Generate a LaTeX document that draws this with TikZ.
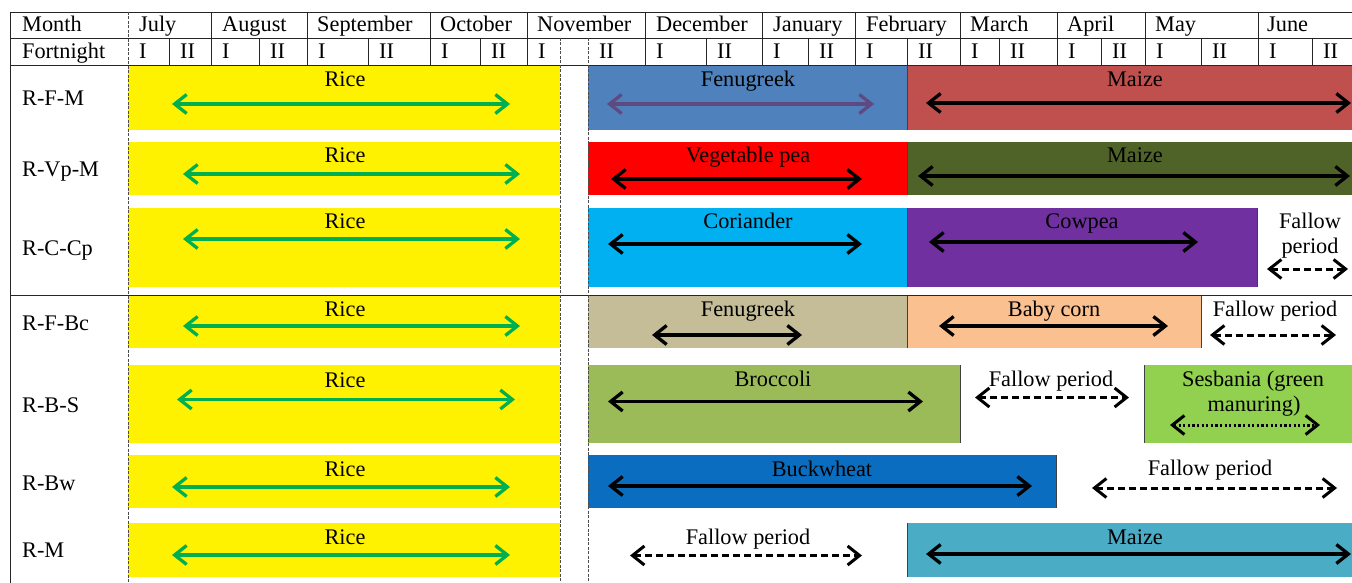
\documentclass[tikz,border=0pt]{standalone}
\usepackage{fontspec}
\setmainfont{Liberation Serif}
\usetikzlibrary{arrows.meta}
\definecolor{riceyellow}{HTML}{FFF200}
\definecolor{ricegreen}{HTML}{00B050}
\definecolor{fenblue}{HTML}{4F81BD}
\definecolor{maizered}{HTML}{C0504D}
\definecolor{fenarrow}{HTML}{5E4A80}
\definecolor{vpred}{HTML}{FF0000}
\definecolor{maizeolive}{HTML}{4F6228}
\definecolor{corcyan}{HTML}{00B0F0}
\definecolor{cowpurple}{HTML}{7030A0}
\definecolor{fentan}{HTML}{C4BD97}
\definecolor{babypeach}{HTML}{FAC090}
\definecolor{broccoligreen}{HTML}{9BBB59}
\definecolor{sesbgreen}{HTML}{92D050}
\definecolor{buckblue}{HTML}{0A6DBF}
\definecolor{maizeteal}{HTML}{4BACC6}
\newcommand\spanarr[5][]{%
  \coordinate (#2-l) at (#3,#5);
  \coordinate (#2-r) at (#4,#5);
  \draw[#1] (#2-l) -- (#2-r);}
\begin{document}
\begin{tikzpicture}[x=1pt,y=-1pt,
  txt/.style={font=\rmfamily\fontsize{22.3}{25}\selectfont, inner sep=0pt, anchor=base},
  lbl/.style={txt, anchor=base west},
  grid/.style={draw=black!85, line width=0.9pt},
  dgrid/.style={draw=black!70, line width=0.7pt, dash pattern=on 3pt off 1.5pt},
  edge/.style={draw=black!75, line width=0.9pt},
  dbl/.style={line width=3.3pt,
    {Straight Barb[length=12pt,width=19pt]}-{Straight Barb[length=12pt,width=19pt]}},
  ricearr/.style={dbl, draw=ricegreen},
  blkarr/.style={dbl, draw=black},
  fenarr/.style={dbl, draw=fenarrow},
  fallowarr/.style={dbl, draw=black, line width=3pt, dash pattern=on 7pt off 4pt},
  dotarr/.style={dbl, draw=black, line width=3pt, dash pattern=on 2.2pt off 2.4pt}]
\useasboundingbox (0,0) rectangle (1352,583);
\fill[white] (0,0) rectangle (1352,583);

% ---- rice bands
\foreach \ya/\yb in {66/130,142/195,208/287,296/348,365/443,455/508,523/577}
  \fill[riceyellow] (128,\ya) rectangle (560,\yb);
% ---- other crops
\fill[fenblue] (588,66) rectangle (907,130);
\fill[maizered] (907,66) rectangle (1352,130);
\fill[vpred] (588,142) rectangle (907,195);
\fill[maizeolive] (907,142) rectangle (1352,195);
\fill[corcyan] (588,208) rectangle (907,287);
\fill[cowpurple] (907,208) rectangle (1257,287);
\fill[fentan] (588,296) rectangle (907,348);
\fill[babypeach] (907,296) rectangle (1201,348);
\fill[broccoligreen] (588,365) rectangle (960,443);
\fill[sesbgreen] (1144,365) rectangle (1352,443);
\fill[buckblue] (588,455) rectangle (1056,508);
\fill[maizeteal] (907,523) rectangle (1352,577);
% block edges
\draw[edge] (907,66) -- (907,130);
\draw[edge] (907,142) -- (907,195);
\draw[edge] (907,208) -- (907,287);
\draw[edge] (1257,208) -- (1257,287);
\draw[edge] (907,296) -- (907,348);
\draw[edge] (1201,296) -- (1201,348);
\draw[edge] (960,365) -- (960,443);
\draw[edge] (1144,365) -- (1144,443);
\draw[edge] (1056,455) -- (1056,508);
\draw[edge] (907,523) -- (907,577);

% ---- grid
\draw[grid] (10,12) -- (1352,12);
\draw[grid] (10,38) -- (1352,38);
\draw[grid] (10,65) -- (1352,65);
\draw[grid] (10,295) -- (1352,295);
\draw[grid] (10,12) -- (10,583);
\foreach \x in {211,307,430,527,645,762,855,960,1057,1145,1258}
  \draw[grid] (\x,12) -- (\x,38);
\foreach \x in {169,211,259,307,368,430,480,527,645,706,762,808,855,907,960,999,1057,1101,1145,1201,1258,1312}
  \draw[grid] (\x,38) -- (\x,65);
\draw[dgrid] (128,12) -- (128,583);
\draw[dgrid] (560,38) -- (560,583);
\draw[dgrid] (588,38) -- (588,583);

% ---- header text
\node[lbl] (hmonth) at (22,32) {Month};
\node[lbl] (hfort) at (22,59) {Fortnight};
\foreach \x/\m [count=\i] in {139/July,222/August,317/September,440/October,537/November,656/December,773/January,866/February,970/March,1067/April,1155/May,1267/June}
  \node[lbl] (mon\i) at (\x,32) {\m};
\foreach \x/\f [count=\i] in {128/I,169/II,211/I,259/II,307/I,368/II,430/I,480/II,527/I,588/II,645/I,706/II,762/I,808/II,855/I,907/II,960/I,999/II,1057/I,1101/II,1145/I,1201/II,1258/I,1312/II}
  \node[lbl] (fn\i) at (\x+11,59) {\f};

% ---- row labels
\node[lbl] (rfm) at (22,106) {R-F-M};
\node[lbl] (rvpm) at (22,176) {R-Vp-M};
\node[lbl] (rccp) at (22,255) {R-C-Cp};
\node[lbl] (rfbc) at (22,330) {R-F-Bc};
\node[lbl] (rbs) at (22,412) {R-B-S};
\node[lbl] (rbw) at (22,490) {R-Bw};
\node[lbl] (rm) at (22,557) {R-M};

% ---- crop labels
\foreach \y [count=\i] in {87,163,228,316,387,476,544}
  \node[txt] (rice\i) at (345,\y) {Rice};
\node[txt] (fen1) at (748,87) {Fenugreek};
\node[txt] (maize1) at (1135,87) {Maize};
\node[txt] (vp) at (748,163) {Vegetable pea};
\node[txt] (maize2) at (1135,163) {Maize};
\node[txt] (cor) at (748,228) {Coriander};
\node[txt] (cow) at (1082,228) {Cowpea};
\node[txt] (fal3a) at (1310,228) {Fallow};
\node[txt] (fal3b) at (1310,253) {period};
\node[txt] (fen2) at (748,316) {Fenugreek};
\node[txt] (baby) at (1054,316) {Baby corn};
\node[txt] (fal4) at (1275,316) {Fallow period};
\node[txt] (broc) at (773,386) {Broccoli};
\node[txt] (fal5) at (1051,386) {Fallow period};
\node[txt] (sesa) at (1253,386) {Sesbania (green};
\node[txt] (sesb) at (1254,411) {manuring)};
\node[txt] (buck) at (822,476) {Buckwheat};
\node[txt] (fal6) at (1210,475) {Fallow period};
\node[txt] (fal7) at (748,544) {Fallow period};
\node[txt] (maize3) at (1135,544) {Maize};

% ---- arrows
\spanarr[ricearr]{ra1}{172}{510}{104}
\spanarr[ricearr]{ra2}{183}{520}{174}
\spanarr[ricearr]{ra3}{183}{520}{239}
\spanarr[ricearr]{ra4}{183}{520}{326}
\spanarr[ricearr]{ra5}{177}{515}{399.5}
\spanarr[ricearr]{ra6}{172}{510}{487}
\spanarr[ricearr]{ra7}{172}{510}{555}
\spanarr[fenarr]{fa1}{607}{874}{104}
\spanarr[blkarr]{ma1}{926}{1351}{103}
\spanarr[blkarr]{va}{611}{862}{179}
\spanarr[blkarr]{ma2}{918}{1350}{176}
\spanarr[blkarr]{ca}{608}{862}{244}
\spanarr[blkarr]{cwa}{929}{1198}{242}
\spanarr[fallowarr]{fla3}{1267}{1348}{269}
\spanarr[blkarr]{fa2}{652}{802}{335}
\spanarr[blkarr]{ba}{939}{1168}{326}
\spanarr[fallowarr]{fla4}{1210}{1336}{335}
\spanarr[blkarr]{bra}{608}{923}{401.5}
\spanarr[fallowarr]{fla5}{975}{1129}{397.5}
\spanarr[dotarr]{sa}{1170}{1320}{425}
\spanarr[blkarr]{bwa}{608}{1032}{486}
\spanarr[fallowarr]{fla6}{1092}{1337}{488}
\spanarr[fallowarr]{fla7}{630}{862}{555.5}
\spanarr[blkarr]{ma3}{926}{1351}{554}
\end{tikzpicture}
\end{document}
